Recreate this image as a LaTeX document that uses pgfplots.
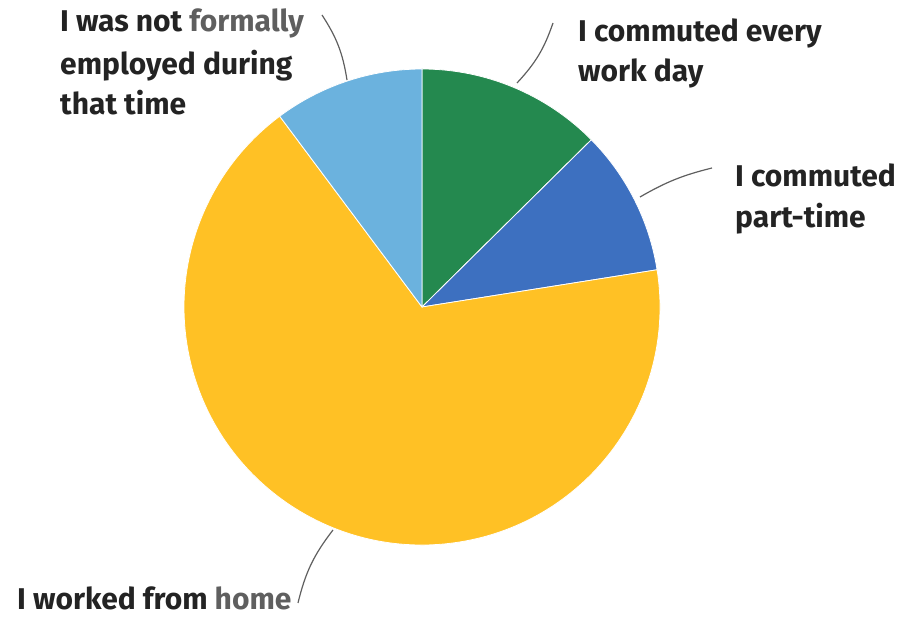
\documentclass[border=0pt]{standalone}
\usepackage{fontspec}
\setmainfont{Fira Sans}
\usepackage{pgfplots}
\usepackage{pgfplotstable}
\pgfplotsset{compat=1.18}
\definecolor{cgreen}{RGB}{36,137,79}
\definecolor{cblue}{RGB}{61,112,192}
\definecolor{cyellow}{RGB}{255,193,37}
\definecolor{clight}{RGB}{107,178,222}
\definecolor{ctext}{RGB}{35,35,35}
\definecolor{cgray}{RGB}{95,95,95}
\definecolor{cline}{RGB}{95,95,95}
\pgfplotstableread{
share
12.6
9.9
67.3
10.2
}\piedata
\begin{document}
\begin{tikzpicture}
\pgfplotstablegetelem{0}{share}\of\piedata \let\sA\pgfplotsretval
\pgfplotstablegetelem{1}{share}\of\piedata \let\sB\pgfplotsretval
\pgfplotstablegetelem{2}{share}\of\piedata \let\sC\pgfplotsretval
\pgfplotstablegetelem{3}{share}\of\piedata \let\sD\pgfplotsretval
\pgfmathsetmacro{\aA}{90-3.6*\sA}
\pgfmathsetmacro{\aB}{\aA-3.6*\sB}
\pgfmathsetmacro{\aC}{\aB-3.6*\sC}
\pgfmathsetmacro{\aD}{\aC-3.6*\sD}
\begin{axis}[scale only axis, width=903pt, height=617pt,
  xmin=0, xmax=903, ymin=0, ymax=617, hide axis, clip=false]
\def\R{238pt}
\filldraw[fill=cgreen, draw=white, line width=0.8pt] (axis cs:422,310) -- ++(90:\R) arc[start angle=90, end angle=\aA, radius=\R] -- cycle;
\filldraw[fill=cblue, draw=white, line width=0.8pt] (axis cs:422,310) -- ++(\aA:\R) arc[start angle=\aA, end angle=\aB, radius=\R] -- cycle;
\filldraw[fill=cyellow, draw=white, line width=0.8pt] (axis cs:422,310) -- ++(\aB:\R) arc[start angle=\aB, end angle=\aC, radius=\R] -- cycle;
\filldraw[fill=clight, draw=white, line width=0.8pt] (axis cs:422,310) -- ++(\aC:\R) arc[start angle=\aC, end angle=\aD, radius=\R] -- cycle;
% leader lines
\draw[cline, line width=1.2pt] (axis cs:347,537) to[bend right=12] (axis cs:322,602);
\draw[cline, line width=1.2pt] (axis cs:517,534) to[bend right=12] (axis cs:553,594);
\draw[cline, line width=1.2pt] (axis cs:640,420) to[bend left=8] (axis cs:712,449);
\draw[cline, line width=1.2pt] (axis cs:333,87) to[bend right=12] (axis cs:298,14);
% labels
\begin{scope}[every node/.style={anchor=base west, inner sep=0pt, text=ctext, font=\fontsize{30}{36}\selectfont\bfseries}]
\node at (axis cs:60,585) {I was not {\color{cgray}formally}};
\node at (axis cs:60,542) {employed during};
\node at (axis cs:60,502) {that time};
\node at (axis cs:578,575) {I commuted every};
\node at (axis cs:578,535) {work day};
\node at (axis cs:735,430) {I commuted};
\node at (axis cs:735,389) {part-time};
\node at (axis cs:17,7) {I worked from {\color{cgray}home}};
\end{scope}
\end{axis}
\pgfresetboundingbox
\path[use as bounding box] (current axis.south west) rectangle (current axis.north east);
\end{tikzpicture}
\end{document}
